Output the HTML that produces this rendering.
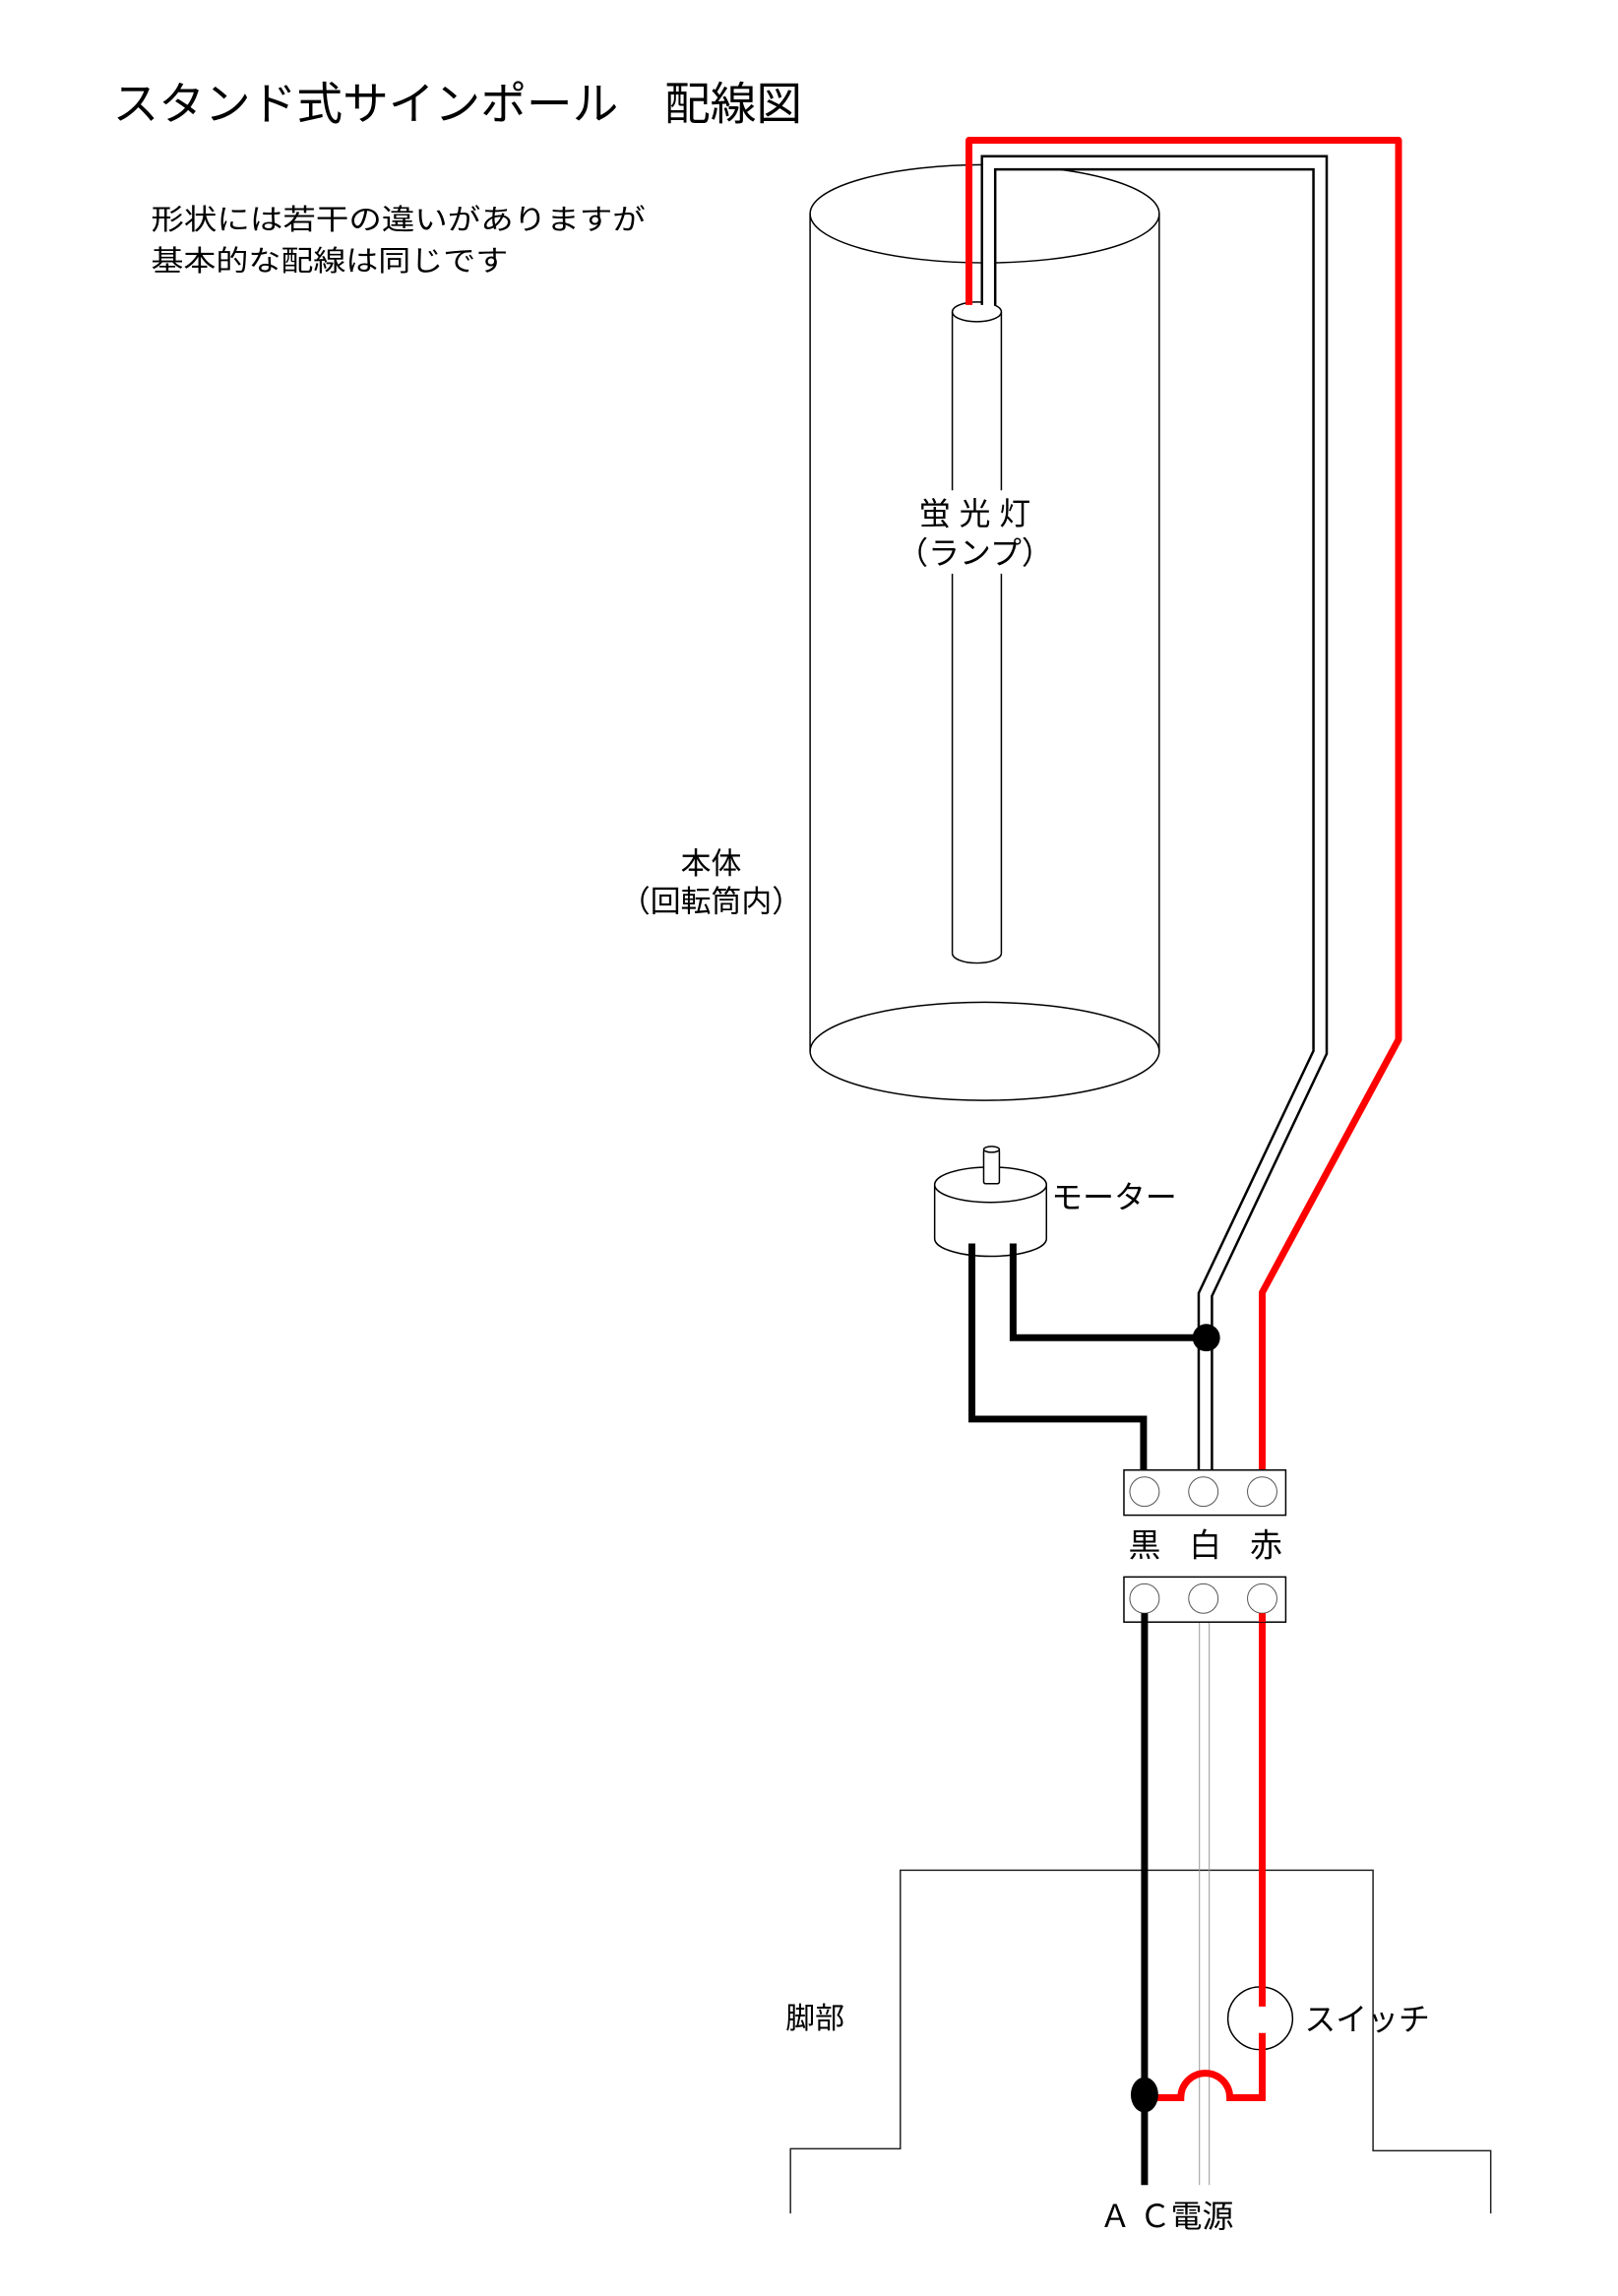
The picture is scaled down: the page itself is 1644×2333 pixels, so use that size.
<!DOCTYPE html>
<html><head><meta charset="utf-8"><style>
html,body{margin:0;padding:0;background:#fff}
svg{display:block}
text{font-family:"Liberation Sans","Noto Sans CJK JP",sans-serif;fill:#000}
</style></head><body>
<svg width="1644" height="2333" viewBox="0 0 1644 2333" xmlns="http://www.w3.org/2000/svg">
<rect width="1644" height="2333" fill="#fff"/>
<g transform="scale(0.9965)">
<text x="115" y="122" font-size="46" textLength="703" lengthAdjust="spacingAndGlyphs">スタンド式サインポール　配線図</text>
<text x="154" y="234" font-size="29" textLength="504" lengthAdjust="spacingAndGlyphs">形状には若干の違いがありますが</text>
<text x="154" y="276" font-size="29" textLength="364" lengthAdjust="spacingAndGlyphs">基本的な配線は同じです</text>

<g fill="none" stroke="#000" stroke-width="1.5">
<ellipse cx="1004" cy="218" rx="178" ry="50"/>
<line x1="826" y1="218" x2="826" y2="1072"/>
<line x1="1182" y1="218" x2="1182" y2="1072"/>
<ellipse cx="1004" cy="1072" rx="178" ry="50"/>
<ellipse cx="996" cy="318" rx="25" ry="10"/>
<line x1="971" y1="318" x2="971" y2="972"/>
<line x1="1021" y1="318" x2="1021" y2="972"/>
<path d="M971 972 A25 10 0 0 0 1021 972"/>
</g>
<rect x="925" y="500" width="140" height="85" fill="#fff"/>
<text x="994" y="535" font-size="32" text-anchor="middle">蛍 光 灯</text>
<text x="994" y="575" font-size="32" text-anchor="middle">（ランプ）</text>
<text x="725" y="891" font-size="31" text-anchor="middle">本体</text>
<text x="725" y="930" font-size="31" text-anchor="middle">（回転筒内）</text>

<path d="M988 311 L988 143 L1426 143 L1426 1060 L1287 1318 L1287 1499" fill="none" stroke="#f00" stroke-width="7" stroke-linejoin="round"/>
<path d="M1008 311 L1008 166 L1346 166 L1346 1073 L1229 1320 L1229 1502" fill="none" stroke="#000" stroke-width="16"/>
<path d="M1008 313 L1008 166 L1346 166 L1346 1073 L1229 1320 L1229 1500" fill="none" stroke="#fff" stroke-width="11"/>

<g stroke="#000" stroke-width="1.5" fill="#fff">
<path d="M953 1208 L953 1263 A57 18 0 0 0 1067 1263 L1067 1208"/>
<ellipse cx="1010" cy="1208" rx="57" ry="18"/>
<rect x="1003" y="1172" width="16" height="35" rx="2"/>
<ellipse cx="1011" cy="1172" rx="8" ry="3"/>
</g>
<text x="1072" y="1232" font-size="32">モーター</text>
<path d="M991 1268 L991 1447 L1166 1447 L1166 1499" fill="none" stroke="#000" stroke-width="7"/>
<path d="M1033 1268 L1033 1364 L1230 1364" fill="none" stroke="#000" stroke-width="7"/>
<circle cx="1230" cy="1364" r="14" fill="#000"/>

<rect x="1146" y="1499" width="165" height="46" fill="#fff" stroke="#000" stroke-width="1.5"/>
<g fill="#fff" stroke="#555" stroke-width="1">
<circle cx="1167" cy="1521" r="15"/><circle cx="1227" cy="1521" r="15"/><circle cx="1287" cy="1521" r="15"/>
</g>
<text x="1167" y="1587" font-size="33" text-anchor="middle">黒</text>
<text x="1229" y="1587" font-size="33" text-anchor="middle">白</text>
<text x="1291" y="1587" font-size="33" text-anchor="middle">赤</text>

<path d="M806 2257 L806 2191 L918 2191 L918 1907 L1400 1907 L1400 2193 L1520 2193 L1520 2257" fill="none" stroke="#222" stroke-width="1.5"/>

<line x1="1167" y1="1645" x2="1167" y2="2228" stroke="#000" stroke-width="7"/>
<line x1="1223" y1="1645" x2="1223" y2="2228" stroke="#999" stroke-width="1"/>
<line x1="1233" y1="1645" x2="1233" y2="2228" stroke="#999" stroke-width="1"/>
<ellipse cx="1285" cy="2058" rx="33" ry="32" fill="none" stroke="#000" stroke-width="1.5"/>
<path d="M1287 1645 L1287 2046" stroke="#f00" stroke-width="7" fill="none"/>
<path d="M1287 2073 L1287 2139 L1254 2139 A25 25 0 0 0 1204 2139 L1167 2139" stroke="#f00" stroke-width="7" fill="none"/>
<ellipse cx="1167" cy="2136" rx="14" ry="18" fill="#000"/>

<rect x="1146" y="1608" width="165" height="46" fill="#fff" stroke="#000" stroke-width="1.5"/>
<g fill="#fff" stroke="#555" stroke-width="1">
<circle cx="1167" cy="1630" r="15"/><circle cx="1227" cy="1630" r="15"/><circle cx="1287" cy="1630" r="15"/>
</g>
<line x1="1167" y1="1645" x2="1167" y2="1654" stroke="#000" stroke-width="7"/>
<line x1="1287" y1="1645" x2="1287" y2="1654" stroke="#f00" stroke-width="7"/>

<text x="801" y="2068" font-size="30">脚部</text>
<text x="1330" y="2070" font-size="32">スイッチ</text>
<text x="1121" y="2271" font-size="32">Ａ Ｃ電源</text>
</g>
</svg>
</body></html>
